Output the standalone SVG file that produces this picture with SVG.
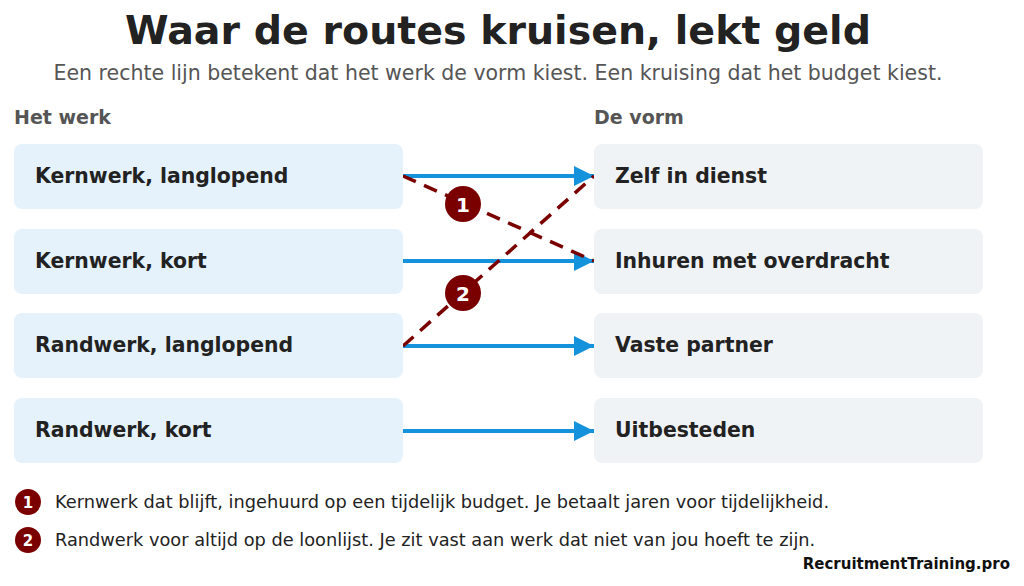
<svg xmlns="http://www.w3.org/2000/svg" width="1024" height="586" viewBox="0 0 1024 586">
<defs>
<style>
text{font-family:"DejaVu Sans",sans-serif;}
.l{fill:#e5f2fc}.r{fill:#f0f3f6}
.n{font-size:20.4px;font-weight:bold;fill:#222}
.h{font-size:19px;font-weight:bold;fill:#555}
.a{stroke:#1592dc;stroke-width:4;fill:none}
.d{stroke:#7a0000;stroke-width:3.5;stroke-dasharray:14 9;fill:none}
.b{fill:#7a0000}.bt{fill:#fff;font-weight:bold;text-anchor:middle}
.lg{font-size:17.75px;fill:#222}
</style>
<marker id="ah" viewBox="0 0 10 10" refX="10" refY="5" markerWidth="5" markerHeight="5" orient="auto" markerUnits="strokeWidth"><path d="M0,0L10,5L0,10z" fill="#1592dc"/></marker>
</defs>
<rect width="1024" height="586" fill="#fff"/>
<text x="498" y="44" text-anchor="middle" font-size="39.5" font-weight="bold" fill="#222">Waar de routes kruisen, lekt geld</text>
<text x="498" y="80" text-anchor="middle" font-size="20.5" fill="#555">Een rechte lijn betekent dat het werk de vorm kiest. Een kruising dat het budget kiest.</text>
<text class="h" x="14" y="124">Het werk</text>
<text class="h" x="594" y="124">De vorm</text>
<g id="connectors">
<line class="a" x1="403" y1="176" x2="594" y2="176" marker-end="url(#ah)"/>
<line class="a" x1="403" y1="261" x2="594" y2="261" marker-end="url(#ah)"/>
<line class="a" x1="403" y1="346" x2="594" y2="346" marker-end="url(#ah)"/>
<line class="a" x1="403" y1="431" x2="594" y2="431" marker-end="url(#ah)"/>
<line class="d" x1="403" y1="176" x2="594" y2="261"/>
<line class="d" x1="403" y1="346" x2="594" y2="176"/>
<circle class="b" cx="463" cy="204" r="18"/><text class="bt" x="463" y="212" font-size="20">1</text>
<circle class="b" cx="463" cy="293" r="18"/><text class="bt" x="463" y="301" font-size="20">2</text>
</g>
<g id="w1"><rect class="l" x="14" y="144" width="389" height="65" rx="8"/><text class="n" x="35" y="183">Kernwerk, langlopend</text></g>
<g id="w2"><rect class="l" x="14" y="229" width="389" height="65" rx="8"/><text class="n" x="35" y="268">Kernwerk, kort</text></g>
<g id="w3"><rect class="l" x="14" y="313" width="389" height="65" rx="8"/><text class="n" x="35" y="352">Randwerk, langlopend</text></g>
<g id="w4"><rect class="l" x="14" y="398" width="389" height="65" rx="8"/><text class="n" x="35" y="437">Randwerk, kort</text></g>
<g id="v1"><rect class="r" x="594" y="144" width="389" height="65" rx="8"/><text class="n" x="615" y="183">Zelf in dienst</text></g>
<g id="v2"><rect class="r" x="594" y="229" width="389" height="65" rx="8"/><text class="n" x="615" y="268">Inhuren met overdracht</text></g>
<g id="v3"><rect class="r" x="594" y="313" width="389" height="65" rx="8"/><text class="n" x="615" y="352">Vaste partner</text></g>
<g id="v4"><rect class="r" x="594" y="398" width="389" height="65" rx="8"/><text class="n" x="615" y="437">Uitbesteden</text></g>
<g id="legend">
<circle class="b" cx="28" cy="502" r="13"/><text class="bt" x="28" y="508" font-size="15" font-weight="normal">1</text>
<text class="lg" x="55" y="508">Kernwerk dat blijft, ingehuurd op een tijdelijk budget. Je betaalt jaren voor tijdelijkheid.</text>
<circle class="b" cx="28" cy="540" r="13"/><text class="bt" x="28" y="546" font-size="15" font-weight="normal">2</text>
<text class="lg" x="55" y="546">Randwerk voor altijd op de loonlijst. Je zit vast aan werk dat niet van jou hoeft te zijn.</text>
</g>
<text x="1010" y="569" text-anchor="end" font-size="15" font-weight="bold" fill="#111">RecruitmentTraining.pro</text>
</svg>
